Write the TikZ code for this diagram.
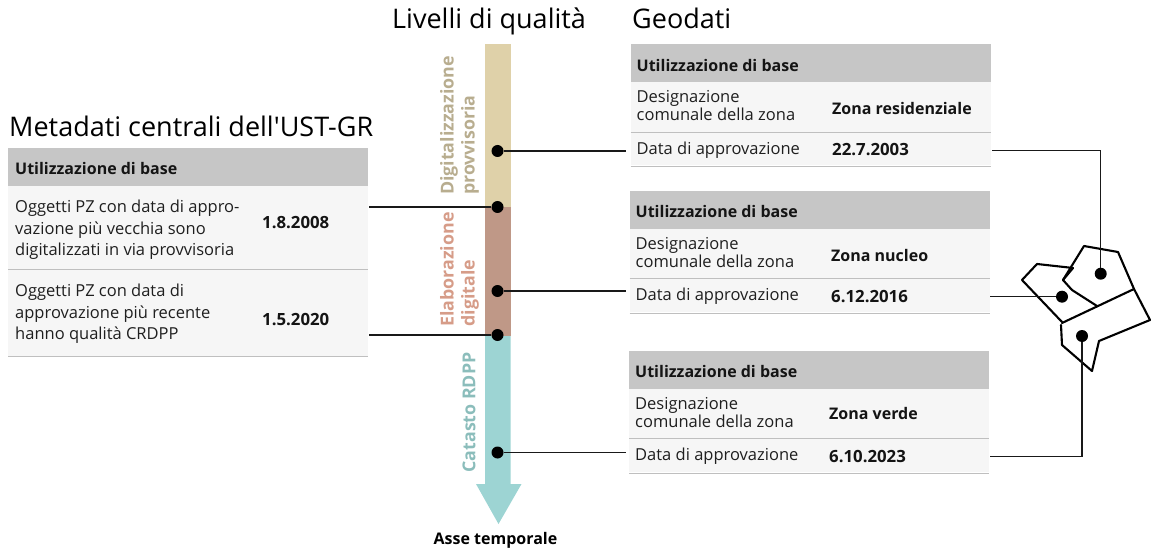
\documentclass[tikz,border=0pt]{standalone}
\usepackage{fontspec}
\setmainfont{Open Sans}
\newfontfamily\plainfam{Open Sans}
\definecolor{hdr}{HTML}{C6C6C6}
\definecolor{rowc}{HTML}{F6F6F6}
\definecolor{sep}{HTML}{BFBFBF}
\definecolor{sand}{HTML}{DFD1A9}
\definecolor{brownq}{HTML}{BF9887}
\definecolor{teal}{HTML}{9DD4D3}
\definecolor{sandt}{HTML}{B8AD8F}
\definecolor{brownt}{HTML}{D69C88}
\definecolor{tealt}{HTML}{8BBDBB}
\tikzset{
 title/.style={anchor=base west,font=\plainfam\fontsize{27}{27}\selectfont,inner sep=0pt},
 body/.style={anchor=west,font=\fontsize{16.5}{18}\selectfont,inner sep=0pt,align=left,text=black!88},
 bodywide/.style={body,font=\fontsize{16.5}{21.5}\selectfont},
 bold/.style={anchor=west,font=\fontsize{16}{19}\selectfont\bfseries,inner sep=0pt,text=black!92},
 datebold/.style={bold,font=\fontsize{16.8}{19}\selectfont\bfseries},
 vlab/.style={rotate=90,font=\fontsize{17.8}{21}\selectfont\bfseries,inner sep=0pt,align=left},
 dot/.style={circle,fill=black,inner sep=0pt,minimum size=12pt},
 conn/.style={draw=black!90,line width=1.5pt},
 parcel/.style={draw=black,line width=2.1pt,line join=round,line cap=round},
}
\newcommand{\geotable}[8]{%
 % #1 left, #2 top, #3 value x, #4 value, #5 date, #6 right, #7 value y offset, #8 header y offset
 \fill[hdr] (#1,#2) rectangle (#6,#2+38);
 \fill[rowc] (#1,#2+38) rectangle (#6,#2+121);
 \draw[sep,line width=.9pt] (#1,#2+87.5) -- (#6,#2+87.5);
 \draw[sep,line width=.9pt] (#1,#2+122) -- (#6,#2+122);
 \node[bold] at (#1+6,#2+#8) {Utilizzazione di base};
 \node[body] at (#1+6,#2+61.5) {Designazione\\comunale della zona};
 \node[bold] at (#3,#2+#7) {#4};
 \node[body] at (#1+6,#2+105.5) {Data di approvazione};
 \node[datebold] at (#3,#2+105.5) {#5};
}
\begin{document}
\begin{tikzpicture}[x=1pt,y=-1pt]
\useasboundingbox (0,0) rectangle (1154,548);
% titles
\node[title] (t1) at (9,137) {Metadati centrali dell'UST-GR};
\node[title] (t2) at (392,29) {Livelli di qualità};
\node[title] (t3) at (632,29) {Geodati};
% left table
\fill[hdr] (8,148) rectangle (368,186);
\fill[rowc] (8,186) rectangle (368,356);
\draw[sep,line width=.9pt] (8,269) -- (368,269);
\draw[sep,line width=.9pt] (8,356.5) -- (368,356.5);
\node[bold] at (15,169) {Utilizzazione di base};
\node[bodywide] at (15,230) {Oggetti PZ con data di appro-\\vazione più vecchia sono\\digitalizzati in via provvisoria};
\node[datebold] at (262,223) {1.8.2008};
\node[bodywide] at (15,314) {Oggetti PZ con data di\\approvazione più recente\\hanno qualità CRDPP};
\node[datebold] at (262,320) {1.5.2020};
% bar
\fill[sand] (485,44) rectangle (510.5,207);
\fill[brownq] (485,207) rectangle (510.5,336);
\fill[teal] (485,336) -- (510.5,336) -- (510.5,484) -- (521.5,484) -- (498.5,524) -- (476,484) -- (485,484) -- cycle;
\node[vlab,text=sandt] (v1) at (459.5,125.5) {Digitalizzazione\\provvisoria};
\node[vlab,text=brownt] (v2) at (459.5,269.5) {Elaborazione\\digitale};
\node[vlab,text=tealt] (v3) at (469,412.5) {Catasto RDPP};
\node[anchor=base,font=\fontsize{16}{18}\selectfont\bfseries,inner sep=0pt] (axis) at (495.5,544) {Asse temporale};
% right tables
\geotable{630.5}{44.5}{832}{Zona residenziale}{22.7.2003}{990.5}{64.5}{21}
\geotable{629.5}{191}{831}{Zona nucleo}{6.12.2016}{989.5}{64.5}{21}
\geotable{629}{351}{829}{Zona verde}{6.10.2023}{988.5}{62.5}{20.5}
% dots on bar
\node[dot] (d1) at (497.5,151) {};
\node[dot] (d2) at (497.5,207) {};
\node[dot] (d3) at (497.5,291) {};
\node[dot] (d4) at (497.5,335) {};
\node[dot] (d5) at (497.5,452.5) {};
% parcels
\draw[parcel] (1062,322) -- (1022,280) -- (1037,264) -- (1073,268) -- (1063,280) -- (1072,290) -- (1097,306);
\draw[parcel] (1063,280) -- (1084,246) -- (1118,252) -- (1134,289) -- (1150,320);
\draw[parcel] (1062,323) -- (1134,289);
\draw[parcel] (1061,325) -- (1062,345) -- (1092,371) -- (1099,341) -- (1150,320);
\node[dot] (p1) at (1100.7,273.7) {};
\node[dot] (p2) at (1062,296.7) {};
\node[dot] (p3) at (1082,336) {};
% connectors
\coordinate (l1) at (369,207);
\coordinate (l2) at (369,335);
\coordinate (g1) at (626,151);
\coordinate (g2) at (626,291);
\coordinate (g3) at (626,452.5);
\coordinate (r1) at (992,150.7);
\coordinate (r2) at (990,296.7);
\coordinate (r3) at (990,456.7);
\draw[conn] (l1) -- (d2);
\draw[conn] (l2) -- (d4);
\draw[conn] (d1) -- (g1);
\draw[conn] (d3) -- (g2);
\draw[conn] (d5) -- (g3);
\draw[conn] (r1) -| (p1);
\draw[conn] (r2) -- (p2);
\draw[conn] (r3) -| (p3);
\end{tikzpicture}
\end{document}
